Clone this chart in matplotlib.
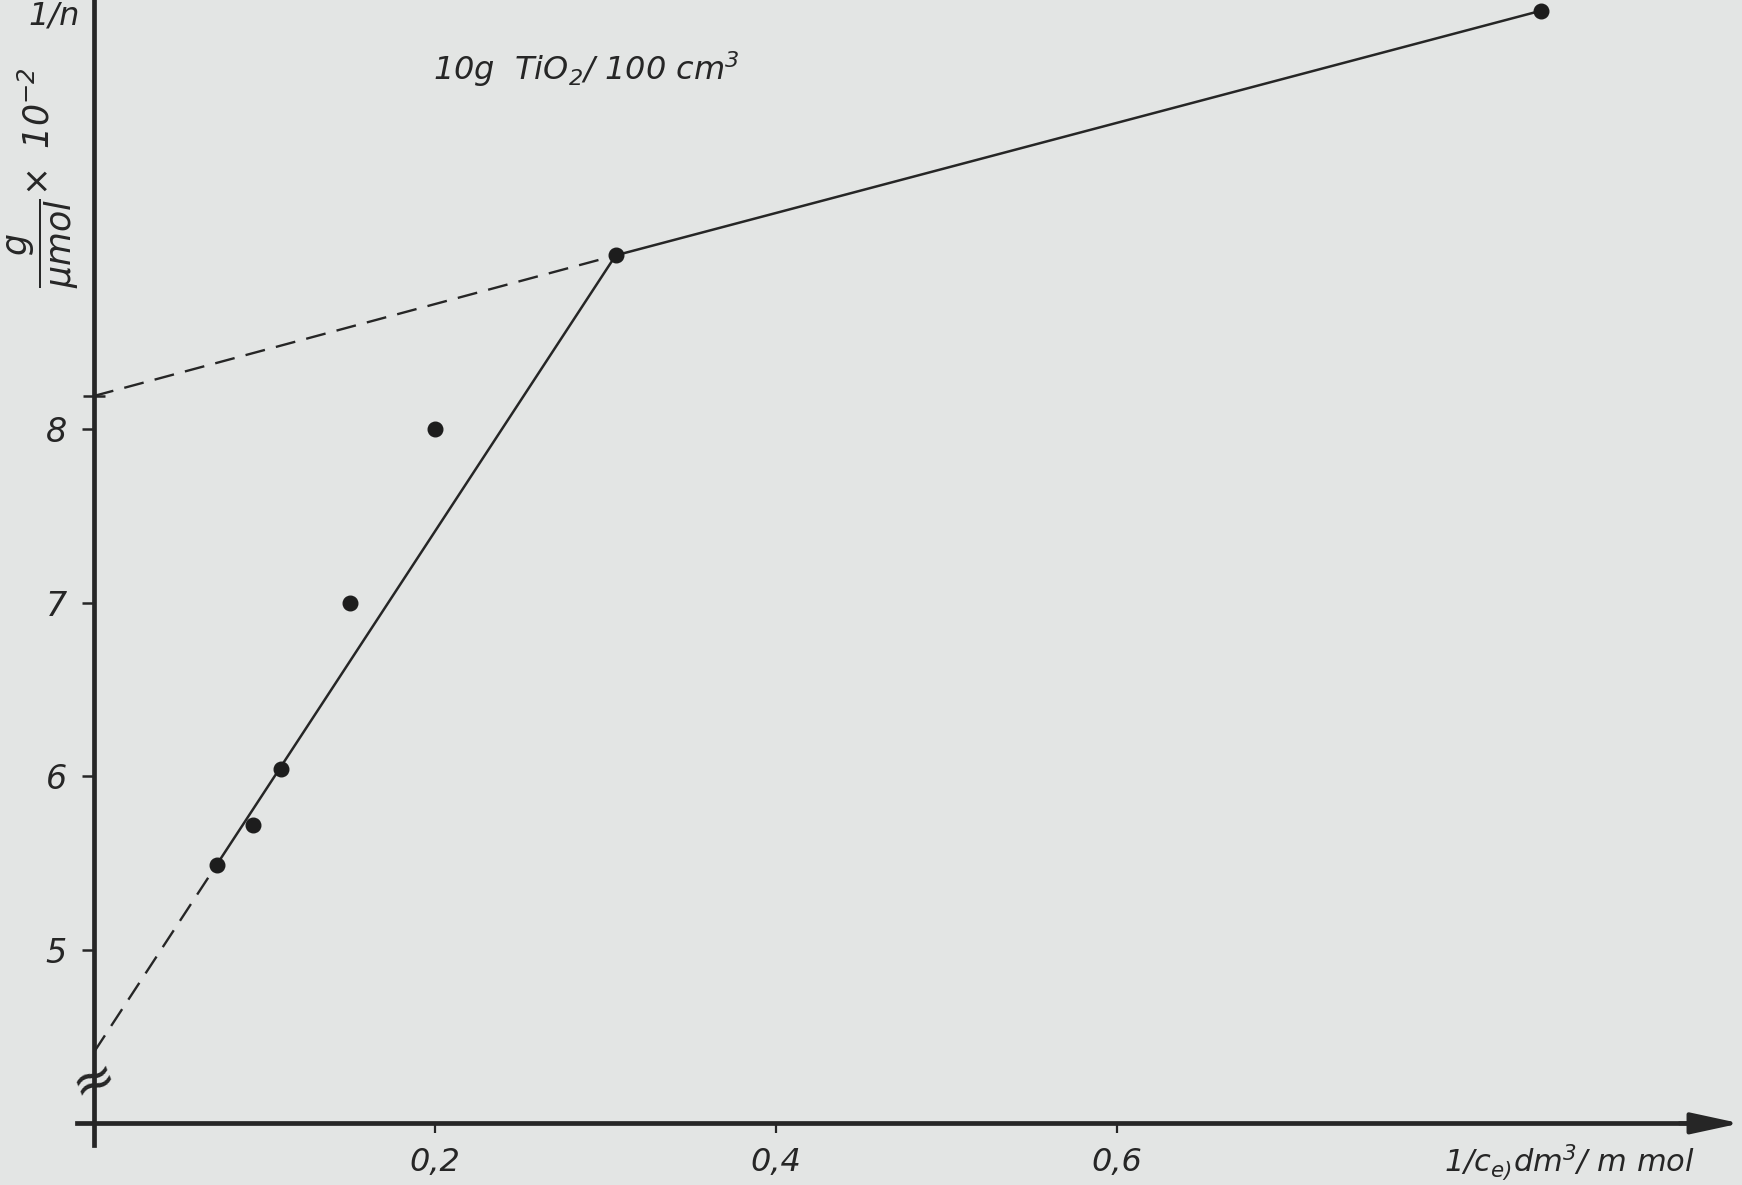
import matplotlib
matplotlib.use("Agg")
import matplotlib.pyplot as plt
from matplotlib.ticker import FixedLocator, FixedFormatter, NullFormatter

# Langmuir-type linearisation: 1/n versus 1/c_e
inv_ce = [0.072, 0.093, 0.110, 0.150, 0.200, 0.306, 0.849]
inv_n = [5.49, 5.72, 6.04, 7.00, 8.00, 9.00, 10.41]

# the two straight branches, given by the points they join and their intercepts
steep_idx = [0, 5]
flat_idx = [5, 6]
steep_intercept = 4.41
flat_intercept = 8.19

x_ticks = [0.2, 0.4, 0.6]
x_tick_labels = ["0,2", "0,4", "0,6"]
y_ticks = [5, 6, 7, 8]
y_tick_labels = ["5", "6", "7", "8"]

paper = "#e3e5e4"
ink = "#262626"

plt.rcParams["font.family"] = ["DejaVu Sans"]
plt.rcParams["font.style"] = "italic"
plt.rcParams["mathtext.fontset"] = "custom"
plt.rcParams["mathtext.rm"] = "DejaVu Sans:italic"
plt.rcParams["mathtext.it"] = "DejaVu Sans:italic"
plt.rcParams["mathtext.default"] = "rm"

fig = plt.figure(figsize=(17.42, 11.85), dpi=100, facecolor=paper)
ax = fig.add_axes([0, 0, 1, 1], facecolor=paper)
ax.set_xlim(-0.0551, 0.9666)
ax.set_ylim(3.645, 10.471)

# axes drawn through the origin of the broken scale
for side in ("top", "right"):
    ax.spines[side].set_visible(False)
ax.spines["left"].set_position(("data", 0.0))
ax.spines["bottom"].set_position(("data", 4.0))
ax.spines["left"].set_bounds(3.876, 10.471)
ax.spines["bottom"].set_bounds(-0.01, 0.945)
for side in ("left", "bottom"):
    ax.spines[side].set_linewidth(3.4)
    ax.spines[side].set_color(ink)

ax.annotate("", xy=(0.9655, 4.0), xytext=(0.93, 4.0),
            arrowprops=dict(arrowstyle="-|>,head_length=3.0,head_width=0.65",
                            color=ink, lw=3.0, shrinkA=0, shrinkB=0))

ax.xaxis.set_major_locator(FixedLocator(x_ticks))
ax.xaxis.set_major_formatter(FixedFormatter(x_tick_labels))
ax.yaxis.set_major_locator(FixedLocator(y_ticks))
ax.yaxis.set_major_formatter(FixedFormatter(y_tick_labels))
ax.yaxis.set_minor_locator(FixedLocator([flat_intercept]))
ax.yaxis.set_minor_formatter(NullFormatter())
ax.xaxis.set_minor_locator(FixedLocator([]))

ax.tick_params(axis="x", which="major", direction="out", length=7, width=1.6,
               color=ink, labelcolor=ink, labelsize=23, pad=10)
ax.tick_params(axis="y", which="major", direction="out", length=8.6, width=1.8,
               color=ink, labelcolor=ink, labelsize=24, pad=11)
ax.tick_params(axis="y", which="minor", direction="inout", length=16.5, width=1.8,
               color=ink)

# dashed extrapolations to the ordinate
ax.plot([0.0, inv_ce[steep_idx[0]]], [steep_intercept, inv_n[steep_idx[0]]],
        color=ink, lw=1.7, dashes=(8.5, 4.8), zorder=3)
ax.plot([0.0, inv_ce[flat_idx[0]]], [flat_intercept, inv_n[flat_idx[0]]],
        color=ink, lw=1.7, dashes=(8.5, 4.8), zorder=3)

# fitted branches
ax.plot([inv_ce[i] for i in steep_idx], [inv_n[i] for i in steep_idx],
        color=ink, lw=1.8, zorder=3)
ax.plot([inv_ce[i] for i in flat_idx], [inv_n[i] for i in flat_idx],
        color=ink, lw=1.8, zorder=3)

# measured points
ax.plot(inv_ce, inv_n, "o", ms=10.5, color="#1d1d1d", zorder=4)

# axis break mark
ax.text(0.0, 4.25, "≈", fontsize=38, fontstyle="normal", rotation=22,
        ha="center", va="center", color=ink, zorder=5)

ax.text(-0.0387, 10.327, "1/n", fontsize=23, color=ink, va="baseline", ha="left")
ax.text(-0.030, 9.45, r"$\dfrac{g}{\mu mol}\!\times\ 10^{-2}$", fontsize=25,
        rotation=90, ha="center", va="center", color=ink)
ax.text(0.1988, 10.01, r"10g  TiO$_2$/ 100 cm$^3$", fontsize=23, color=ink,
        va="baseline", ha="left")
ax.text(0.7918, 3.72, r"1/c$_{e)}$dm$^3$/ m mol", fontsize=22, color=ink,
        va="baseline", ha="left")

fig.savefig("out.png", dpi=100, facecolor=paper)
